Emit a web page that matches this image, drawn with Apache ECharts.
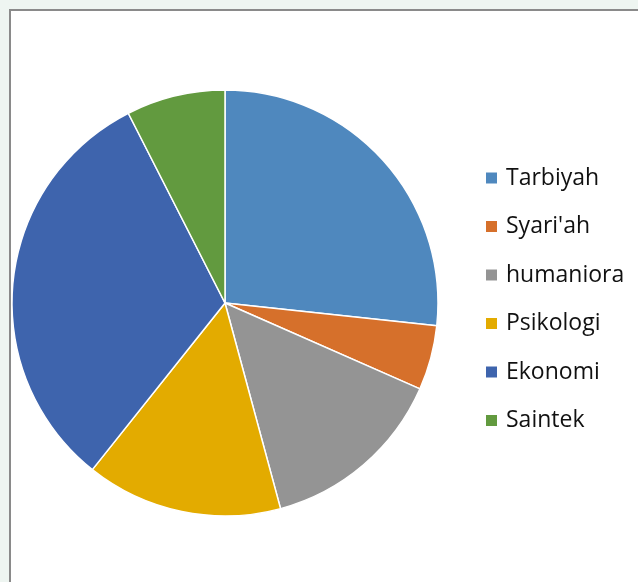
<!DOCTYPE html>
<html>
<head>
<meta charset="utf-8">
<script src="https://cdn.jsdelivr.net/npm/echarts@6/dist/echarts.min.js"></script>
<style>
  html, body { margin: 0; padding: 0; background: #eef5f1; }
  #frame {
    position: absolute; left: 9px; top: 9px; width: 640px; height: 580px;
    border-left: 2px solid #8a8a8a; border-top: 2px solid #8a8a8a;
    background: #ffffff;
  }
  #main { position: absolute; left: 0; top: 0; width: 638px; height: 582px; }
</style>
</head>
<body>
<div id="frame"></div>
<div id="main"></div>
<script>
// kategori dan nilai (persen)
var categories = ['Tarbiyah', "Syari'ah", 'humaniora', 'Psikologi', 'Ekonomi', 'Saintek'];
var values = [26.7, 4.9, 14.2, 14.9, 31.8, 7.5];
var colors = ['#4f88be', '#d6702b', '#949494', '#e3ab00', '#3e64ad', '#629a3f'];

var pieData = categories.map(function (name, i) {
  return { name: name, value: values[i] };
});

var chart = echarts.init(document.getElementById('main'));
var option = {
  animation: false,
  color: colors,
  legend: {
    orient: 'vertical',
    left: 479,
    top: 161,
    icon: 'rect',
    itemWidth: 13,
    itemHeight: 13,
    itemGap: 24.5,
    selectedMode: false,
    data: categories,
    textStyle: {
      fontFamily: 'Open Sans',
      fontSize: 23,
      lineHeight: 24,
      color: '#111111',
      padding: [0, 0, 0, 3]
    }
  },
  series: [
    {
      name: 'Fakultas',
      type: 'pie',
      center: [225, 303],
      radius: 213,
      startAngle: 90,
      clockwise: true,
      label: { show: false },
      labelLine: { show: false },
      emphasis: { disabled: true },
      itemStyle: { borderColor: '#ffffff', borderWidth: 1.5 },
      data: pieData
    }
  ]
};
chart.setOption(option);
</script>
</body>
</html>
